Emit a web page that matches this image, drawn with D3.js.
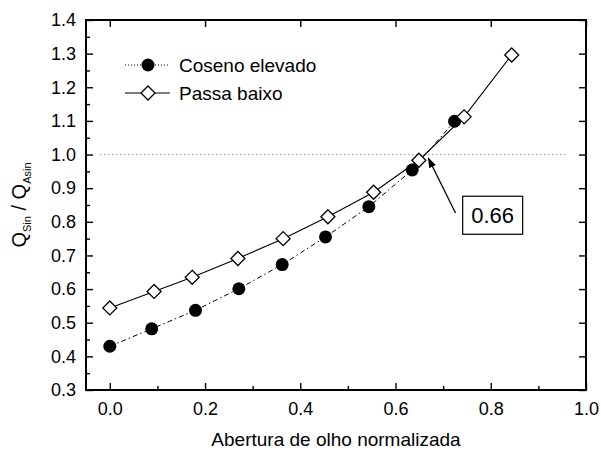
<!DOCTYPE html>
<html>
<head>
<meta charset="utf-8">
<script src="https://cdn.jsdelivr.net/npm/d3@7"></script>
<style>
  body { margin: 0; background: #fff; }
  svg { font-family: "Liberation Sans", Arial, sans-serif; }
  .axis path { display: none; }
  .axis line { stroke: #000; stroke-width: 1.4; }
  .axis text { font-size: 18px; fill: #000; }
</style>
</head>
<body>
<svg id="chart" width="601" height="451"></svg>
<script>
// data
let passaX = [0.0, 0.093, 0.173, 0.269, 0.364, 0.458, 0.554, 0.649, 0.744, 0.844];
let passaY = [0.544, 0.593, 0.635, 0.691, 0.750, 0.815, 0.888, 0.983, 1.112, 1.296];
let cosenoX = [0.0, 0.088, 0.180, 0.271, 0.362, 0.453, 0.544, 0.635, 0.724];
let cosenoY = [0.430, 0.482, 0.537, 0.601, 0.673, 0.755, 0.845, 0.954, 1.099];
let seriesNames = ["Coseno elevado", "Passa baixo"];
let xTicks = [0.0, 0.2, 0.4, 0.6, 0.8, 1.0];
let yTicks = [0.3, 0.4, 0.5, 0.6, 0.7, 0.8, 0.9, 1.0, 1.1, 1.2, 1.3, 1.4];
let refLine = [-0.02, 0.962]; // dotted line at 1.0
let refValue = 1.0;
let annotation = {label: "0.66", head: [0.669, 0.989], tail: [0.726, 0.826], box: [0.741, 0.876, 0.867, 0.763]};

let margin = {left: 86, top: 20, right: 15, bottom: 61};
let width = 601, height = 451;

let svg = d3.select('#chart');

let x = d3.scaleLinear().domain([-0.05, 1.0]).range([margin.left, width - margin.right]);
let y = d3.scaleLinear().domain([0.3, 1.4]).range([height - margin.bottom, margin.top]);

let x0 = x.range()[0], x1 = x.range()[1];
let y0 = y.range()[0], y1 = y.range()[1];

//arrow head
svg.append('defs').append('marker')
    .attr('id', 'arrow')
    .attr('viewBox', '0 0 10 10')
    .attr('refX', 9).attr('refY', 5)
    .attr('markerWidth', 8).attr('markerHeight', 8)
    .attr('orient', 'auto')
    .append('path')
    .attr('d', 'M0,1.5 L10,5 L0,8.5 Z')
    .attr('fill', '#000');

// axes, ticks pointing inward
let minorX = d3.range(-0.0, 1.01, 0.1).filter((v) => Math.round(v * 10) % 2 === 1);
let minorY = d3.range(0.35, 1.4, 0.1);

svg.append('g').attr('class', 'axis')
    .attr('transform', 'translate(0,' + y0 + ')')
    .call(d3.axisBottom(x).tickValues(xTicks).tickFormat(d3.format('.1f')).tickSize(-7).tickPadding(12));
svg.append('g').attr('class', 'axis')
    .attr('transform', 'translate(0,' + y0 + ')')
    .call(d3.axisBottom(x).tickValues(minorX).tickFormat('').tickSize(-4));

svg.append('g').attr('class', 'axis')
    .attr('transform', 'translate(0,' + y1 + ')')
    .call(d3.axisTop(x).tickValues(xTicks).tickFormat('').tickSize(-7));

svg.append('g').attr('class', 'axis')
    .attr('transform', 'translate(' + x0 + ',0)')
    .call(d3.axisLeft(y).tickValues(yTicks).tickFormat(d3.format('.1f')).tickSize(-7).tickPadding(10));
svg.append('g').attr('class', 'axis')
    .attr('transform', 'translate(' + x0 + ',0)')
    .call(d3.axisLeft(y).tickValues(minorY).tickFormat('').tickSize(-4));

svg.append('g').attr('class', 'axis')
    .attr('transform', 'translate(' + x1 + ',0)')
    .call(d3.axisRight(y).tickValues(yTicks).tickFormat('').tickSize(-7));

// frame
svg.append('rect')
    .attr('x', x0).attr('y', y1)
    .attr('width', x1 - x0).attr('height', y0 - y1)
    .attr('fill', 'none')
    .attr('stroke', '#000')
    .attr('stroke-width', 2);

// dotted reference line
svg.append('line')
    .attr('x1', x(refLine[0])).attr('x2', x(refLine[1]))
    .attr('y1', y(refValue)).attr('y2', y(refValue))
    .attr('stroke', '#777')
    .attr('stroke-width', 1)
    .attr('stroke-dasharray', '1,3');

let coseno = cosenoX.map((v, i) => [v, cosenoY[i]]);
let passa = passaX.map((v, i) => [v, passaY[i]]);

let line = d3.line().x((d) => x(d[0])).y((d) => y(d[1]));

svg.append('path')
    .datum(coseno)
    .attr('d', line)
    .attr('fill', 'none')
    .attr('stroke', '#000')
    .attr('stroke-width', 1)
    .attr('stroke-dasharray', '5,3,1.5,3');

svg.append('path')
    .datum(passa)
    .attr('d', line)
    .attr('fill', 'none')
    .attr('stroke', '#000')
    .attr('stroke-width', 1.1);

let diamond = (cx, cy, r) => 'M' + cx + ',' + (cy - r) + 'L' + (cx + r) + ',' + cy +
    'L' + cx + ',' + (cy + r) + 'L' + (cx - r) + ',' + cy + 'Z';

svg.append('g').selectAll('circle')
    .data(coseno)
    .enter().append('circle')
    .attr('cx', (d) => x(d[0]))
    .attr('cy', (d) => y(d[1]))
    .attr('r', 6.5)
    .attr('fill', '#000');

svg.append('g').selectAll('path')
    .data(passa)
    .enter().append('path')
    .attr('d', (d) => diamond(x(d[0]), y(d[1]), 7))
    .attr('fill', '#fff')
    .attr('stroke', '#000')
    .attr('stroke-width', 1.3);

// legend
let legend = svg.append('g').attr('transform', 'translate(125,65)');

legend.append('line')
    .attr('x1', 0).attr('x2', 45).attr('y1', 0).attr('y2', 0)
    .attr('stroke', '#000').attr('stroke-dasharray', '1,2');
legend.append('circle').attr('cx', 23).attr('cy', 0).attr('r', 6.5).attr('fill', '#000');
legend.append('text').attr('x', 54).attr('y', 7).attr('font-size', 19).text(seriesNames[0]);

legend.append('line')
    .attr('x1', 0).attr('x2', 45).attr('y1', 28).attr('y2', 28)
    .attr('stroke', '#000').attr('stroke-width', 1.1);
legend.append('path').attr('d', diamond(23, 28, 7))
    .attr('fill', '#fff').attr('stroke', '#000').attr('stroke-width', 1.3);
legend.append('text').attr('x', 54).attr('y', 35).attr('font-size', 19).text(seriesNames[1]);

// annotation
svg.append('line')
    .attr('x1', x(annotation.tail[0])).attr('y1', y(annotation.tail[1]))
    .attr('x2', x(annotation.head[0])).attr('y2', y(annotation.head[1]))
    .attr('stroke', '#000')
    .attr('stroke-width', 1.3)
    .attr('marker-end', 'url(#arrow)');

let b = annotation.box;
svg.append('rect')
    .attr('x', x(b[0])).attr('y', y(b[1]))
    .attr('width', x(b[2]) - x(b[0])).attr('height', y(b[3]) - y(b[1]))
    .attr('fill', '#fff')
    .attr('stroke', '#000')
    .attr('stroke-width', 1.2);
svg.append('text')
    .attr('x', (x(b[0]) + x(b[2])) / 2)
    .attr('y', (y(b[1]) + y(b[3])) / 2 + 8)
    .attr('text-anchor', 'middle')
    .attr('font-size', 22)
    .text(annotation.label);

// axis titles
svg.append('text')
    .attr('x', (x0 + x1) / 2)
    .attr('y', 446)
    .attr('text-anchor', 'middle')
    .attr('font-size', 19)
    .text('Abertura de olho normalizada');

let ylab = svg.append('text')
    .attr('transform', 'translate(26,' + ((y0 + y1) / 2) + ') rotate(-90)')
    .attr('text-anchor', 'middle')
    .attr('font-size', 20);
ylab.append('tspan').text('Q');
ylab.append('tspan').attr('font-size', 11).attr('dy', 5).text('Sin');
ylab.append('tspan').attr('dy', -5).text(' / Q');
ylab.append('tspan').attr('font-size', 11).attr('dy', 5).text('Asin');
</script>
</body>
</html>
